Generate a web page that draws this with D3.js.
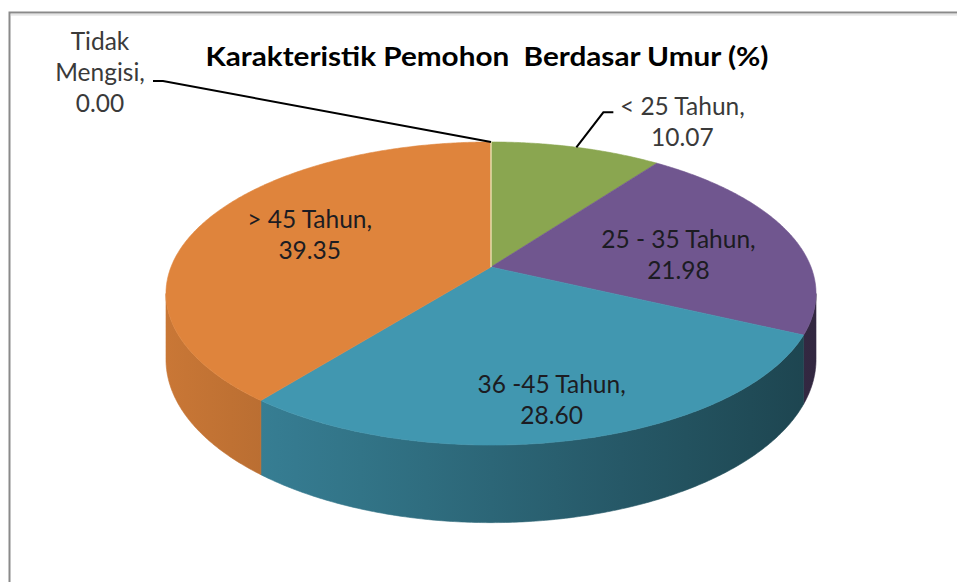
<!DOCTYPE html>
<html>
<head>
<meta charset="utf-8">
<script src="https://cdn.jsdelivr.net/npm/d3@7"></script>
<style>
  html, body { margin: 0; padding: 0; background: #ffffff; }
  svg { display: block; }
  text { font-family: Lato, "Open Sans", sans-serif; white-space: pre; }
</style>
</head>
<body>
<svg id="chart" width="957" height="582"></svg>
<script>
// ---------- data ----------
const categories = ["< 25 Tahun", "25 - 35 Tahun", "36 -45 Tahun", "> 45 Tahun", "Tidak Mengisi"];
const values = [10.07, 21.98, 28.60, 39.35, 0.00];
const labelLines = [["< 25 Tahun,"], ["25 - 35 Tahun,"], ["36 -45 Tahun,"], ["> 45 Tahun,"], ["Tidak", "Mengisi,"]];
const sliceColors = ["#8aa650", "#70568f", "#4197b0", "#df843c", "#e6e2b4"];
const titleText = "Karakteristik Pemohon  Berdasar Umur (%)";

// ---------- layout ----------
const W = 957, H = 582;
const cx = 491, cy = 267;      // projected pie centre
const A = 320, B = 146.9;      // horizontal / vertical radius scale
const K = 0.175;               // perspective strength
const DEPTH = 64;              // pie thickness
const labelR = [1, 0.6, 0.6, 0.6, 1];
const labelOffset = [[106, -32], [6, 2], [12, 30], [-6, -11], [-391, -92]];
const inside = [false, true, true, true, false];
const lineGap = 31;
const labelSize = 24.5;

const svg = d3.select("#chart");
const defs = svg.append("defs");

// frame
svg.append("rect").attr("x", 9.5).attr("y", 12.5).attr("width", 1000).attr("height", 1000)
  .attr("fill", "none").attr("stroke", "#8a8a8a").attr("stroke-width", 2);
svg.append("line").attr("x1", 11).attr("x2", W).attr("y1", 14.8).attr("y2", 14.8)
  .attr("stroke", "#dcdcdc").attr("stroke-width", 1.2);

// projection of a point of the (unit) pie disc
function proj(theta, r = 1, depth = 0) {
  const u = r * Math.sin(theta), v = -r * Math.cos(theta);
  const w = 1 - K * v;
  return [cx + A * u / w, cy + B * v / w + depth / w];
}

const pie = d3.pie().sort(null).value(d => d).startAngle(0).endAngle(2 * Math.PI);
const arcs = pie(values);

const lineGen = d3.line();
const STEP = Math.PI / 360;
function sample(a0, a1) {
  const n = Math.max(1, Math.ceil((a1 - a0) / STEP));
  return d3.range(n + 1).map(i => a0 + (a1 - a0) * i / n);
}

// visible outer wall range (between silhouette points)
const thR = Math.acos(-K), thL = 2 * Math.PI - thR;
const xLeft = proj(thL)[0], xRight = proj(thR)[0];
const shade = d3.scaleLinear().domain([xLeft, xRight]).range([0.9, 0.45]);

function darken(col, f) {
  const c = d3.rgb(col);
  return d3.rgb(c.r * f, c.g * f, c.b * f).formatHex();
}

// side walls
const wallG = svg.append("g");
arcs.forEach((a, i) => {
  const a0 = Math.max(a.startAngle, thR), a1 = Math.min(a.endAngle, thL);
  if (a1 <= a0) return;
  const gid = "wall" + i;
  const grad = defs.append("linearGradient").attr("id", gid)
    .attr("gradientUnits", "userSpaceOnUse")
    .attr("x1", xLeft).attr("x2", xRight).attr("y1", 0).attr("y2", 0);
  d3.range(0, 1.0001, 0.1).forEach(t => {
    const x = xLeft + t * (xRight - xLeft);
    grad.append("stop").attr("offset", t).attr("stop-color", darken(sliceColors[i], shade(x)));
  });
  const angs = sample(a0, a1);
  const pts = angs.map(t => proj(t)).concat(angs.slice().reverse().map(t => proj(t, 1, DEPTH)));
  wallG.append("path").attr("d", lineGen(pts) + "Z")
    .attr("fill", `url(#${gid})`).attr("stroke", `url(#${gid})`).attr("stroke-width", 0.6);
});

// top faces
const topG = svg.append("g");
arcs.forEach((a, i) => {
  if (a.endAngle - a.startAngle <= 0) return;
  const pts = [[cx, cy]].concat(sample(a.startAngle, a.endAngle).map(t => proj(t)));
  topG.append("path").attr("d", lineGen(pts) + "Z")
    .attr("fill", sliceColors[i]).attr("stroke", sliceColors[i]).attr("stroke-width", 0.6);
});
// zero-size slice shows as a thin seam
arcs.forEach((a, i) => {
  if (a.endAngle - a.startAngle > 0) return;
  const p = proj(a.startAngle);
  topG.append("line").attr("x1", cx).attr("y1", cy).attr("x2", p[0]).attr("y2", p[1])
    .attr("stroke", sliceColors[i]).attr("stroke-width", 1.4);
});

// title
svg.append("text").attr("x", 487).attr("y", 66).attr("text-anchor", "middle")
  .attr("font-size", 26).attr("font-weight", "bold").attr("fill", "#000")
  .attr("textLength", 563).attr("lengthAdjust", "spacingAndGlyphs")
  .text(titleText);

// labels
const fmt = d3.format(".2f");
const labG = svg.append("g");
arcs.forEach((a, i) => {
  const mid = (a.startAngle + a.endAngle) / 2;
  const p = proj(mid, labelR[i]);
  const ax = p[0] + labelOffset[i][0], ay = p[1] + labelOffset[i][1];
  const lines = labelLines[i].concat([fmt(values[i])]);
  const t = labG.append("text").attr("text-anchor", "middle").attr("font-size", labelSize)
    .attr("fill", inside[i] ? "#1c1c22" : "#3a3a3a");
  lines.forEach((s, j) => t.append("tspan").attr("x", ax).attr("y", ay + j * lineGap).text(s));
  if (!inside[i]) {
    const rim = proj(mid);
    let pts;
    if (i === 0) {
      const e = [rim[0] + 27, rim[1] - 35];
      pts = [rim, e, [e[0] + 10, e[1]]];
    } else {
      const e = [163, 81];
      pts = [rim, e, [153, 81]];
    }
    labG.append("path").attr("d", lineGen(pts)).attr("fill", "none")
      .attr("stroke", "#000").attr("stroke-width", 2);
  }
});
</script>
</body>
</html>
